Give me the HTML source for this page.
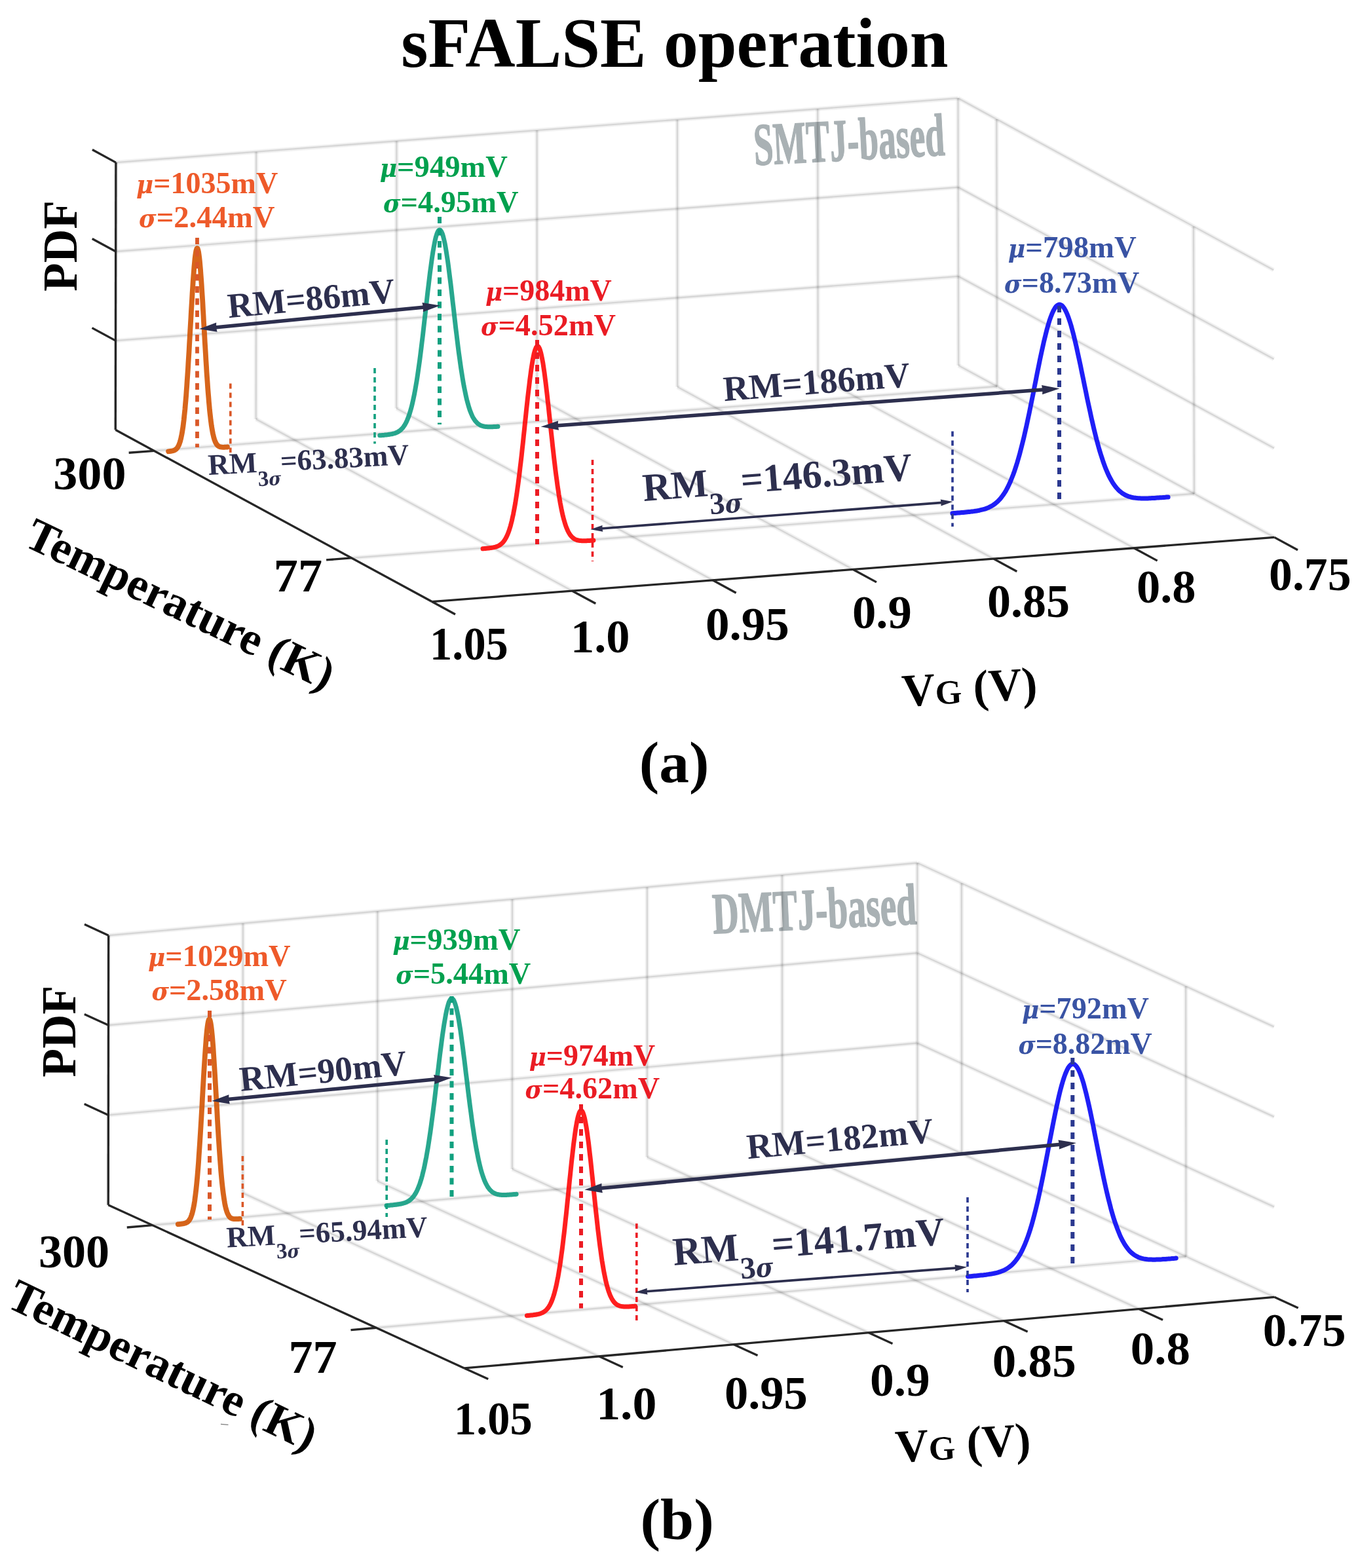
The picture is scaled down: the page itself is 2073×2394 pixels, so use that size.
<!DOCTYPE html>
<html><head><meta charset="utf-8"><title>sFALSE operation</title>
<style>html,body{margin:0;padding:0;background:#fff;}svg{display:block;}</style>
</head><body>
<svg width="2073" height="2394" viewBox="0 0 2073 2394" font-family="'Liberation Serif', 'Times New Roman', serif">
<rect width="2073" height="2394" fill="#fff"/>
<text id="smtj" transform="translate(1152 252) rotate(-3) scale(0.5850 1)" font-size="91.6" fill="#a9b1b4" font-weight="bold" font-style="normal" text-anchor="start" stroke="#a9b1b4" stroke-width="1.6" stroke-linejoin="round">SMTJ-based</text>
<g stroke="#000" stroke-opacity="0.055" stroke-width="6.5" stroke-linecap="butt">
<line x1="176.29" y1="656.28" x2="176.9" y2="248.1"/>
<line x1="390.75" y1="639.91" x2="391.15" y2="231.73"/>
<line x1="605.21" y1="623.54" x2="605.4" y2="215.37"/>
<line x1="819.69" y1="607.16" x2="819.65" y2="199.01"/>
<line x1="1034.17" y1="590.79" x2="1033.92" y2="182.65"/>
<line x1="1248.65" y1="574.42" x2="1248.19" y2="166.28"/>
<line x1="1463.15" y1="558.04" x2="1462.47" y2="149.92"/>
<line x1="176.5" y1="520.13" x2="1462.92" y2="421.91"/>
<line x1="176.7" y1="384.07" x2="1462.69" y2="285.87"/>
<line x1="176.9" y1="248.1" x2="1462.47" y2="149.92"/>
<line x1="1522.01" y1="590.07" x2="1521.27" y2="181.94"/>
<line x1="1822.93" y1="753.78" x2="1821.89" y2="345.66"/>
<line x1="1462.92" y1="421.91" x2="1944.96" y2="684.25"/>
<line x1="1462.69" y1="285.87" x2="1944.58" y2="548.21"/>
<line x1="1462.47" y1="149.92" x2="1944.19" y2="412.26"/>
<line x1="390.75" y1="639.91" x2="873.61" y2="902.18"/>
<line x1="605.21" y1="623.54" x2="1087.94" y2="885.82"/>
<line x1="819.69" y1="607.16" x2="1302.28" y2="869.46"/>
<line x1="1034.17" y1="590.79" x2="1516.63" y2="853.11"/>
<line x1="1248.65" y1="574.42" x2="1730.99" y2="836.75"/>
<line x1="1463.15" y1="558.04" x2="1945.35" y2="820.39"/>
<line x1="235.25" y1="688.29" x2="1522.01" y2="590.07"/>
<line x1="536.66" y1="851.96" x2="1822.93" y2="753.78"/>
</g>
<g stroke="#000" stroke-opacity="0.11" stroke-width="2.4" stroke-linecap="butt">
<line x1="176.29" y1="656.28" x2="176.9" y2="248.1"/>
<line x1="390.75" y1="639.91" x2="391.15" y2="231.73"/>
<line x1="605.21" y1="623.54" x2="605.4" y2="215.37"/>
<line x1="819.69" y1="607.16" x2="819.65" y2="199.01"/>
<line x1="1034.17" y1="590.79" x2="1033.92" y2="182.65"/>
<line x1="1248.65" y1="574.42" x2="1248.19" y2="166.28"/>
<line x1="1463.15" y1="558.04" x2="1462.47" y2="149.92"/>
<line x1="176.5" y1="520.13" x2="1462.92" y2="421.91"/>
<line x1="176.7" y1="384.07" x2="1462.69" y2="285.87"/>
<line x1="176.9" y1="248.1" x2="1462.47" y2="149.92"/>
<line x1="1522.01" y1="590.07" x2="1521.27" y2="181.94"/>
<line x1="1822.93" y1="753.78" x2="1821.89" y2="345.66"/>
<line x1="1462.92" y1="421.91" x2="1944.96" y2="684.25"/>
<line x1="1462.69" y1="285.87" x2="1944.58" y2="548.21"/>
<line x1="1462.47" y1="149.92" x2="1944.19" y2="412.26"/>
<line x1="390.75" y1="639.91" x2="873.61" y2="902.18"/>
<line x1="605.21" y1="623.54" x2="1087.94" y2="885.82"/>
<line x1="819.69" y1="607.16" x2="1302.28" y2="869.46"/>
<line x1="1034.17" y1="590.79" x2="1516.63" y2="853.11"/>
<line x1="1248.65" y1="574.42" x2="1730.99" y2="836.75"/>
<line x1="1463.15" y1="558.04" x2="1945.35" y2="820.39"/>
<line x1="235.25" y1="688.29" x2="1522.01" y2="590.07"/>
<line x1="536.66" y1="851.96" x2="1822.93" y2="753.78"/>
</g>
<g stroke="#262626" stroke-width="3.3" stroke-linecap="butt" fill="none">
<line x1="176.29" y1="656.28" x2="176.9" y2="248.1" stroke="#262626" stroke-width="3.3" />
<line x1="176.29" y1="656.28" x2="659.28" y2="918.54" stroke="#262626" stroke-width="3.3" />
<line x1="659.28" y1="918.54" x2="1945.35" y2="820.39" stroke="#262626" stroke-width="3.3" />
<line x1="176.5" y1="520.13" x2="140.5" y2="500.58" stroke="#262626" stroke-width="3.3" />
<line x1="176.7" y1="384.07" x2="140.72" y2="364.52" stroke="#262626" stroke-width="3.3" />
<line x1="176.9" y1="248.1" x2="140.93" y2="228.55" stroke="#262626" stroke-width="3.3" />
<line x1="659.28" y1="918.54" x2="695" y2="937.93" stroke="#262626" stroke-width="3.3" />
<line x1="873.61" y1="902.18" x2="909.31" y2="921.57" stroke="#262626" stroke-width="3.3" />
<line x1="1087.94" y1="885.82" x2="1123.64" y2="905.22" stroke="#262626" stroke-width="3.3" />
<line x1="1302.28" y1="869.46" x2="1337.97" y2="888.86" stroke="#262626" stroke-width="3.3" />
<line x1="1516.63" y1="853.11" x2="1552.31" y2="872.5" stroke="#262626" stroke-width="3.3" />
<line x1="1730.99" y1="836.75" x2="1766.66" y2="856.15" stroke="#262626" stroke-width="3.3" />
<line x1="1945.35" y1="820.39" x2="1981.01" y2="839.79" stroke="#262626" stroke-width="3.3" />
<line x1="235.25" y1="688.29" x2="196.65" y2="691.24" stroke="#262626" stroke-width="3.3" />
<line x1="536.66" y1="851.96" x2="498.07" y2="854.9" stroke="#262626" stroke-width="3.3" />
</g>
<text id="title" transform="translate(1030 101.6) scale(0.9811 1)" font-size="107.8" fill="#000" font-weight="bold" font-style="normal" text-anchor="middle">sFALSE operation</text>
<text id="pdf_a" transform="translate(117.2 375.6) rotate(-90) scale(0.9650 1)" font-size="74" fill="#000" font-weight="bold" font-style="normal" text-anchor="middle">PDF</text>
<text id="t300_a" transform="translate(81.31 747) scale(1.0297 1)" font-size="72" fill="#000" font-weight="bold" font-style="normal" text-anchor="start">300</text>
<text id="t77_a" transform="translate(417.77 903) scale(1.0323 1)" font-size="72" fill="#000" font-weight="bold" font-style="normal" text-anchor="start">77</text>
<text id="temp_a" transform="translate(34.26 832.32) rotate(25.7)" font-size="70.8" fill="#000" font-weight="bold" font-style="normal" text-anchor="start">Temperature (K)</text>
<text id="x105_a" transform="translate(656.1 1006.5) scale(0.9500 1)" font-size="72" fill="#000" font-weight="bold" font-style="normal" text-anchor="start">1.05</text>
<text id="x100_a" transform="translate(870.97 995.5) scale(1.0050 1)" font-size="72" fill="#000" font-weight="bold" font-style="normal" text-anchor="start">1.0</text>
<text id="x095_a" transform="translate(1076.95 977) scale(1.0151 1)" font-size="72" fill="#000" font-weight="bold" font-style="normal" text-anchor="start">0.95</text>
<text id="x090_a" transform="translate(1300.97 959) scale(1.0096 1)" font-size="72" fill="#000" font-weight="bold" font-style="normal" text-anchor="start">0.9</text>
<text id="x085_a" transform="translate(1507.1 941.5)" font-size="72" fill="#000" font-weight="bold" font-style="normal" text-anchor="start">0.85</text>
<text id="x080_a" transform="translate(1734.88 919.5) scale(1.0071 1)" font-size="72" fill="#000" font-weight="bold" font-style="normal" text-anchor="start">0.8</text>
<text id="x075_a" transform="translate(1937.11 900.5) scale(0.9950 1)" font-size="72" fill="#000" font-weight="bold" font-style="normal" text-anchor="start">0.75</text>
<text id="vg_a" transform="translate(1378 1078.5) rotate(-3.3)" font-size="70.5" fill="#000" font-weight="bold" font-style="normal" text-anchor="start">V<tspan font-size="52">G</tspan> (V)</text>
<text id="lab_a" transform="translate(975.87 1194) scale(1.0330 1)" font-size="88.6" fill="#000" font-weight="bold" font-style="normal" text-anchor="start">(a)</text>
<path d="M257.1,689.3 L257.6,689.2 L258.2,689.2 L258.8,689.1 L259.3,689.0 L259.9,689.0 L260.4,688.9 L261.0,688.8 L261.6,688.7 L262.1,688.6 L262.7,688.5 L263.3,688.4 L263.8,688.3 L264.4,688.1 L264.9,687.9 L265.5,687.7 L266.1,687.5 L266.6,687.2 L267.2,686.9 L267.8,686.5 L268.3,686.1 L268.9,685.7 L269.4,685.1 L270.0,684.5 L270.6,683.8 L271.1,683.1 L271.7,682.2 L272.2,681.1 L272.8,680.0 L273.4,678.7 L273.9,677.2 L274.5,675.6 L275.1,673.8 L275.6,671.7 L276.2,669.5 L276.7,667.0 L277.3,664.2 L277.9,661.1 L278.4,657.8 L279.0,654.1 L279.6,650.1 L280.1,645.7 L280.7,641.0 L281.2,635.9 L281.8,630.4 L282.4,624.6 L282.9,618.3 L283.5,611.7 L284.1,604.6 L284.6,597.2 L285.2,589.4 L285.7,581.2 L286.3,572.7 L286.9,563.9 L287.4,554.7 L288.0,545.3 L288.6,535.7 L289.1,525.9 L289.7,516.0 L290.2,506.0 L290.8,495.9 L291.4,485.9 L291.9,476.0 L292.5,466.2 L293.1,456.6 L293.6,447.3 L294.2,438.4 L294.7,429.9 L295.3,421.8 L295.9,414.3 L296.4,407.4 L297.0,401.1 L297.5,395.5 L298.1,390.7 L298.7,386.7 L299.2,383.5 L299.8,381.1 L300.4,379.6 L300.9,379.0 L301.5,379.3 L302.0,380.5 L302.6,382.5 L303.2,385.4 L303.7,389.1 L304.3,393.6 L304.9,398.9 L305.4,404.9 L306.0,411.5 L306.5,418.8 L307.1,426.6 L307.7,435.0 L308.2,443.7 L308.8,452.8 L309.4,462.2 L309.9,471.9 L310.5,481.7 L311.0,491.6 L311.6,501.6 L312.2,511.5 L312.7,521.4 L313.3,531.1 L313.9,540.7 L314.4,550.1 L315.0,559.2 L315.5,568.1 L316.1,576.6 L316.7,584.8 L317.2,592.6 L317.8,600.1 L318.4,607.1 L318.9,613.8 L319.5,620.1 L320.0,626.0 L320.6,631.5 L321.2,636.6 L321.7,641.3 L322.3,645.7 L322.8,649.7 L323.4,653.4 L324.0,656.7 L324.5,659.8 L325.1,662.6 L325.7,665.1 L326.2,667.3 L326.8,669.3 L327.3,671.1 L327.9,672.7 L328.5,674.2 L329.0,675.4 L329.6,676.5 L330.2,677.5 L330.7,678.3 L331.3,679.1 L331.8,679.7 L332.4,680.2 L333.0,680.7 L333.5,681.1 L334.1,681.4 L334.7,681.7 L335.2,682.0 L335.8,682.2 L336.3,682.3 L336.9,682.4 L337.5,682.5 L338.0,682.6 L338.6,682.7 L339.2,682.7 L339.7,682.8 L340.3,682.8 L340.8,682.8 L341.4,682.8 L342.0,682.8 L342.5,682.8 L343.1,682.7 L343.7,682.7 L344.2,682.7 L344.8,682.6 L345.3,682.6 L345.9,682.6 L346.5,682.5 L347.0,682.5" fill="none" stroke="#d45808" stroke-width="7.8" stroke-linejoin="round" stroke-linecap="round" opacity="0.92"/>
<line x1="301" y1="363" x2="301" y2="683" stroke="#da5828" stroke-width="5.8" stroke-dasharray="10 8.5" stroke-dashoffset="0"/>
<line x1="351.8" y1="585.5" x2="351.8" y2="691" stroke="#da5828" stroke-width="3.6" stroke-dasharray="8 6" stroke-dashoffset="0"/>
<path d="M579.8,664.8 L581.0,664.8 L582.1,664.7 L583.2,664.6 L584.3,664.5 L585.5,664.4 L586.6,664.3 L587.7,664.1 L588.9,664.0 L590.0,663.9 L591.1,663.8 L592.2,663.6 L593.4,663.5 L594.5,663.3 L595.6,663.1 L596.7,662.9 L597.9,662.7 L599.0,662.5 L600.1,662.2 L601.2,661.9 L602.4,661.6 L603.5,661.2 L604.6,660.7 L605.7,660.2 L606.9,659.7 L608.0,659.0 L609.1,658.3 L610.2,657.5 L611.4,656.6 L612.5,655.6 L613.6,654.4 L614.8,653.2 L615.9,651.7 L617.0,650.1 L618.1,648.3 L619.3,646.3 L620.4,644.1 L621.5,641.6 L622.6,638.9 L623.8,635.9 L624.9,632.6 L626.0,629.1 L627.1,625.2 L628.3,621.0 L629.4,616.4 L630.5,611.5 L631.6,606.2 L632.8,600.5 L633.9,594.4 L635.0,588.0 L636.2,581.1 L637.3,573.9 L638.4,566.3 L639.5,558.4 L640.7,550.1 L641.8,541.4 L642.9,532.5 L644.0,523.3 L645.2,513.9 L646.3,504.2 L647.4,494.4 L648.5,484.5 L649.7,474.6 L650.8,464.6 L651.9,454.7 L653.0,444.9 L654.2,435.2 L655.3,425.8 L656.4,416.7 L657.6,408.0 L658.7,399.6 L659.8,391.8 L660.9,384.5 L662.1,377.8 L663.2,371.8 L664.3,366.4 L665.4,361.8 L666.6,358.0 L667.7,355.0 L668.8,352.8 L669.9,351.5 L671.1,351.0 L672.2,351.4 L673.3,352.7 L674.4,354.8 L675.6,357.7 L676.7,361.5 L677.8,366.0 L679.0,371.2 L680.1,377.2 L681.2,383.8 L682.3,391.0 L683.5,398.7 L684.6,406.9 L685.7,415.6 L686.8,424.5 L688.0,433.8 L689.1,443.3 L690.2,452.9 L691.3,462.7 L692.5,472.5 L693.6,482.3 L694.7,492.0 L695.8,501.6 L697.0,511.1 L698.1,520.3 L699.2,529.3 L700.3,538.0 L701.5,546.5 L702.6,554.5 L703.7,562.3 L704.9,569.7 L706.0,576.7 L707.1,583.3 L708.2,589.5 L709.4,595.4 L710.5,600.8 L711.6,605.9 L712.7,610.6 L713.9,615.0 L715.0,619.0 L716.1,622.7 L717.2,626.1 L718.4,629.1 L719.5,631.9 L720.6,634.4 L721.7,636.7 L722.9,638.7 L724.0,640.5 L725.1,642.1 L726.3,643.5 L727.4,644.8 L728.5,645.9 L729.6,646.9 L730.8,647.7 L731.9,648.4 L733.0,649.1 L734.1,649.6 L735.3,650.0 L736.4,650.4 L737.5,650.7 L738.6,651.0 L739.8,651.2 L740.9,651.4 L742.0,651.5 L743.1,651.6 L744.3,651.7 L745.4,651.7 L746.5,651.8 L747.7,651.8 L748.8,651.8 L749.9,651.7 L751.0,651.7 L752.2,651.7 L753.3,651.6 L754.4,651.6 L755.5,651.5 L756.7,651.5 L757.8,651.4 L758.9,651.3 L760.0,651.2" fill="none" stroke="#16a084" stroke-width="7.0" stroke-linejoin="round" stroke-linecap="round" opacity="0.92"/>
<line x1="671" y1="331" x2="671" y2="648" stroke="#11a07f" stroke-width="6" stroke-dasharray="10 8.5" stroke-dashoffset="0"/>
<line x1="572" y1="562" x2="572" y2="677.5" stroke="#11a07f" stroke-width="3.6" stroke-dasharray="8 6" stroke-dashoffset="0"/>
<path d="M737.1,837.8 L738.1,837.7 L739.2,837.6 L740.2,837.5 L741.3,837.4 L742.4,837.3 L743.4,837.2 L744.5,837.1 L745.5,837.0 L746.6,836.9 L747.6,836.7 L748.7,836.6 L749.7,836.4 L750.8,836.3 L751.8,836.1 L752.9,835.9 L754.0,835.7 L755.0,835.4 L756.1,835.1 L757.1,834.8 L758.2,834.5 L759.2,834.1 L760.3,833.6 L761.3,833.1 L762.4,832.5 L763.5,831.8 L764.5,831.0 L765.6,830.1 L766.6,829.2 L767.7,828.1 L768.7,826.8 L769.8,825.4 L770.8,823.8 L771.9,822.0 L772.9,820.1 L774.0,817.9 L775.1,815.4 L776.1,812.7 L777.2,809.8 L778.2,806.5 L779.3,802.9 L780.3,799.0 L781.4,794.8 L782.4,790.1 L783.5,785.2 L784.5,779.8 L785.6,774.0 L786.7,767.9 L787.7,761.3 L788.8,754.4 L789.8,747.0 L790.9,739.3 L791.9,731.2 L793.0,722.7 L794.0,713.9 L795.1,704.8 L796.2,695.5 L797.2,685.9 L798.3,676.1 L799.3,666.2 L800.4,656.1 L801.4,646.1 L802.5,636.0 L803.5,626.0 L804.6,616.2 L805.6,606.6 L806.7,597.3 L807.8,588.3 L808.8,579.7 L809.9,571.6 L810.9,564.0 L812.0,557.0 L813.0,550.7 L814.1,545.1 L815.1,540.2 L816.2,536.2 L817.3,533.0 L818.3,530.6 L819.4,529.1 L820.4,528.5 L821.5,528.8 L822.5,530.0 L823.6,532.1 L824.6,535.0 L825.7,538.8 L826.7,543.3 L827.8,548.7 L828.9,554.7 L829.9,561.4 L831.0,568.7 L832.0,576.6 L833.1,585.0 L834.1,593.7 L835.2,602.9 L836.2,612.3 L837.3,621.9 L838.3,631.7 L839.4,641.6 L840.5,651.5 L841.5,661.4 L842.6,671.2 L843.6,680.8 L844.7,690.3 L845.7,699.5 L846.8,708.5 L847.8,717.2 L848.9,725.6 L850.0,733.6 L851.0,741.2 L852.1,748.4 L853.1,755.3 L854.2,761.8 L855.2,767.8 L856.3,773.5 L857.3,778.8 L858.4,783.7 L859.4,788.2 L860.5,792.3 L861.6,796.1 L862.6,799.6 L863.7,802.8 L864.7,805.6 L865.8,808.2 L866.8,810.5 L867.9,812.6 L868.9,814.4 L870.0,816.1 L871.0,817.5 L872.1,818.8 L873.2,819.9 L874.2,820.9 L875.3,821.7 L876.3,822.5 L877.4,823.1 L878.4,823.6 L879.5,824.1 L880.5,824.5 L881.6,824.8 L882.7,825.0 L883.7,825.2 L884.8,825.4 L885.8,825.5 L886.9,825.6 L887.9,825.7 L889.0,825.7 L890.0,825.8 L891.1,825.8 L892.1,825.8 L893.2,825.7 L894.3,825.7 L895.3,825.7 L896.4,825.6 L897.4,825.6 L898.5,825.5 L899.5,825.5 L900.6,825.4 L901.6,825.3 L902.7,825.3 L903.8,825.2 L904.8,825.1 L905.9,825.0" fill="none" stroke="#ff0c0c" stroke-width="7.0" stroke-linejoin="round" stroke-linecap="round" opacity="0.92"/>
<line x1="820" y1="519" x2="820" y2="831" stroke="#ec1c24" stroke-width="6" stroke-dasharray="10 9" stroke-dashoffset="0"/>
<line x1="904.5" y1="702" x2="904.5" y2="857" stroke="#ec1c24" stroke-width="3.6" stroke-dasharray="8 6" stroke-dashoffset="0"/>
<path d="M1453.9,783.8 L1456.0,783.6 L1458.0,783.5 L1460.1,783.3 L1462.2,783.1 L1464.2,783.0 L1466.3,782.8 L1468.3,782.6 L1470.4,782.4 L1472.4,782.2 L1474.5,782.0 L1476.6,781.8 L1478.6,781.6 L1480.7,781.4 L1482.7,781.1 L1484.8,780.9 L1486.8,780.6 L1488.9,780.3 L1491.0,780.0 L1493.0,779.6 L1495.1,779.2 L1497.1,778.7 L1499.2,778.2 L1501.2,777.7 L1503.3,777.1 L1505.4,776.4 L1507.4,775.6 L1509.5,774.7 L1511.5,773.7 L1513.6,772.6 L1515.6,771.4 L1517.7,770.0 L1519.8,768.4 L1521.8,766.7 L1523.9,764.7 L1525.9,762.6 L1528.0,760.2 L1530.0,757.5 L1532.1,754.6 L1534.2,751.4 L1536.2,747.9 L1538.3,744.0 L1540.3,739.8 L1542.4,735.2 L1544.4,730.3 L1546.5,725.0 L1548.6,719.2 L1550.6,713.1 L1552.7,706.5 L1554.7,699.6 L1556.8,692.2 L1558.8,684.4 L1560.9,676.2 L1563.0,667.7 L1565.0,658.8 L1567.1,649.5 L1569.1,640.0 L1571.2,630.2 L1573.2,620.2 L1575.3,610.0 L1577.4,599.7 L1579.4,589.4 L1581.5,579.0 L1583.5,568.7 L1585.6,558.5 L1587.6,548.5 L1589.7,538.8 L1591.8,529.3 L1593.8,520.3 L1595.9,511.8 L1597.9,503.8 L1600.0,496.4 L1602.0,489.7 L1604.1,483.7 L1606.2,478.4 L1608.2,474.0 L1610.3,470.4 L1612.3,467.7 L1614.4,465.9 L1616.4,465.1 L1618.5,465.1 L1620.6,466.1 L1622.6,468.0 L1624.7,470.8 L1626.7,474.5 L1628.8,478.9 L1630.8,484.2 L1632.9,490.3 L1635.0,497.0 L1637.0,504.4 L1639.1,512.3 L1641.1,520.7 L1643.2,529.6 L1645.2,538.9 L1647.3,548.4 L1649.4,558.2 L1651.4,568.2 L1653.5,578.2 L1655.5,588.3 L1657.6,598.3 L1659.6,608.2 L1661.7,618.0 L1663.8,627.6 L1665.8,637.0 L1667.9,646.1 L1669.9,654.9 L1672.0,663.3 L1674.0,671.4 L1676.1,679.1 L1678.1,686.4 L1680.2,693.2 L1682.3,699.7 L1684.3,705.8 L1686.4,711.4 L1688.4,716.7 L1690.5,721.5 L1692.5,726.0 L1694.6,730.0 L1696.7,733.8 L1698.7,737.2 L1700.8,740.2 L1702.8,743.0 L1704.9,745.5 L1706.9,747.7 L1709.0,749.7 L1711.1,751.4 L1713.1,753.0 L1715.2,754.3 L1717.2,755.5 L1719.3,756.5 L1721.3,757.4 L1723.4,758.1 L1725.5,758.7 L1727.5,759.3 L1729.6,759.7 L1731.6,760.1 L1733.7,760.3 L1735.7,760.6 L1737.8,760.7 L1739.9,760.8 L1741.9,760.9 L1744.0,761.0 L1746.0,761.0 L1748.1,761.0 L1750.1,760.9 L1752.2,760.9 L1754.3,760.8 L1756.3,760.7 L1758.4,760.6 L1760.4,760.5 L1762.5,760.4 L1764.5,760.2 L1766.6,760.1 L1768.7,760.0 L1770.7,759.8 L1772.8,759.7 L1774.8,759.6 L1776.9,759.4 L1778.9,759.3 L1781.0,759.1 L1783.1,759.0" fill="none" stroke="#0c0cf6" stroke-width="7.0" stroke-linejoin="round" stroke-linecap="round" opacity="0.92"/>
<line x1="1617" y1="467" x2="1617" y2="767.5" stroke="#2b3990" stroke-width="6" stroke-dasharray="10 9" stroke-dashoffset="0"/>
<line x1="1454" y1="658.4" x2="1454" y2="804" stroke="#2b3990" stroke-width="3.6" stroke-dasharray="8 6" stroke-dashoffset="0"/>
<text id="mu_o_a" transform="translate(208 295) scale(1.0023 1)" font-size="46" fill="#ee5a2a" font-weight="bold" font-style="normal" text-anchor="start"><tspan font-style="italic" font-family="'DejaVu Serif Condensed', 'DejaVu Serif', serif" font-size="39.6">&#956;</tspan>=1035mV</text>
<text id="sg_o_a" transform="translate(211.97 347) scale(1.0149 1)" font-size="46" fill="#ee5a2a" font-weight="bold" font-style="normal" text-anchor="start"><tspan font-style="italic" font-family="'DejaVu Serif Condensed', 'DejaVu Serif', serif" font-size="39.6">&#963;</tspan>=2.44mV</text>
<text id="mu_g_a" transform="translate(579.69 269.8) scale(1.0121 1)" font-size="46" fill="#00a04e" font-weight="bold" font-style="normal" text-anchor="start"><tspan font-style="italic" font-family="'DejaVu Serif Condensed', 'DejaVu Serif', serif" font-size="39.6">&#956;</tspan>=949mV</text>
<text id="sg_g_a" transform="translate(584.99 323.7) scale(1.0099 1)" font-size="46" fill="#00a04e" font-weight="bold" font-style="normal" text-anchor="start"><tspan font-style="italic" font-family="'DejaVu Serif Condensed', 'DejaVu Serif', serif" font-size="39.6">&#963;</tspan>=4.95mV</text>
<text id="mu_r_a" transform="translate(741 459)" font-size="46" fill="#ea1c24" font-weight="bold" font-style="normal" text-anchor="start"><tspan font-style="italic" font-family="'DejaVu Serif Condensed', 'DejaVu Serif', serif" font-size="39.6">&#956;</tspan>=984mV</text>
<text id="sg_r_a" transform="translate(733.89 512) scale(1.0084 1)" font-size="46" fill="#ea1c24" font-weight="bold" font-style="normal" text-anchor="start"><tspan font-style="italic" font-family="'DejaVu Serif Condensed', 'DejaVu Serif', serif" font-size="39.6">&#963;</tspan>=4.52mV</text>
<text id="mu_b_a" transform="translate(1538.78 392.9) scale(1.0168 1)" font-size="46" fill="#3953a4" font-weight="bold" font-style="normal" text-anchor="start"><tspan font-style="italic" font-family="'DejaVu Serif Condensed', 'DejaVu Serif', serif" font-size="39.6">&#956;</tspan>=798mV</text>
<text id="sg_b_a" transform="translate(1532.99 446.5) scale(1.0079 1)" font-size="46" fill="#3953a4" font-weight="bold" font-style="normal" text-anchor="start"><tspan font-style="italic" font-family="'DejaVu Serif Condensed', 'DejaVu Serif', serif" font-size="39.6">&#963;</tspan>=8.73mV</text>
<line x1="322.81" y1="500.48" x2="653.19" y2="468.42" stroke="#2d2f4e" stroke-width="5.5" />
<polygon points="304,502.3 331.57,506.86 330.07,499.77 330.18,492.53" fill="#2d2f4e"/>
<polygon points="672,466.6 644.43,462.04 645.93,469.13 645.82,476.37" fill="#2d2f4e"/>
<line x1="844.45" y1="650.21" x2="1598.65" y2="594.59" stroke="#2d2f4e" stroke-width="5.5" />
<polygon points="825.6,651.6 853.06,656.79 851.72,649.67 852,642.43" fill="#2d2f4e"/>
<polygon points="1617.5,593.2 1590.04,588.01 1591.38,595.13 1591.1,602.37" fill="#2d2f4e"/>
<line x1="914.41" y1="807.22" x2="1441.59" y2="767.08" stroke="#2d2f4e" stroke-width="3.7" />
<polygon points="901.5,808.2 920.32,811.68 919.39,806.84 919.57,801.91" fill="#2d2f4e"/>
<polygon points="1454.5,766.1 1435.68,762.62 1436.61,767.46 1436.43,772.39" fill="#2d2f4e"/>
<text id="rm86" transform="translate(349 485.3) rotate(-5.35)" font-size="53.5" fill="#2d2f4e" font-weight="bold" font-style="normal" text-anchor="start">RM=86mV</text>
<text id="rm186" transform="translate(1105.5 612.3) rotate(-4.5)" font-size="54" fill="#2d2f4e" font-weight="bold" font-style="normal" text-anchor="start">RM=186mV</text>
<text id="rm146" transform="translate(982.5 765) rotate(-4.5)" font-size="60" fill="#2d2f4e" font-weight="bold" font-style="normal" text-anchor="start">RM<tspan font-size="46.8" dy="28.2">3</tspan><tspan font-size="40.25" font-style="italic" font-family="'DejaVu Serif Condensed', 'DejaVu Serif', serif">&#963;</tspan><tspan dy="-28.2">=146.3mV</tspan></text>
<text id="rm63" transform="translate(318.2 725) rotate(-3)" font-size="45" fill="#2d2f4e" font-weight="bold" font-style="normal" text-anchor="start">RM<tspan font-size="33.3" dy="21.15">3</tspan><tspan font-size="28.64" font-style="italic" font-family="'DejaVu Serif Condensed', 'DejaVu Serif', serif">&#963;</tspan><tspan dy="-21.15">=63.83mV</tspan></text>
<text id="smtj_b" transform="translate(1089 1425.3) rotate(-2.7) scale(0.6240 1)" font-size="89" fill="#a9b1b4" font-weight="bold" font-style="normal" text-anchor="start" stroke="#a9b1b4" stroke-width="1.6" stroke-linejoin="round">DMTJ-based</text>
<g stroke="#000" stroke-opacity="0.055" stroke-width="6.5" stroke-linecap="butt">
<line x1="165.24" y1="1839.65" x2="165.65" y2="1428.2"/>
<line x1="370.58" y1="1821.45" x2="370.88" y2="1409.79"/>
<line x1="576.13" y1="1803.23" x2="576.33" y2="1391.37"/>
<line x1="781.89" y1="1785" x2="782" y2="1372.93"/>
<line x1="987.87" y1="1766.74" x2="987.88" y2="1354.46"/>
<line x1="1194.08" y1="1748.47" x2="1193.98" y2="1335.98"/>
<line x1="1400.49" y1="1730.18" x2="1400.3" y2="1317.48"/>
<line x1="165.38" y1="1702.45" x2="1400.43" y2="1592.57"/>
<line x1="165.51" y1="1565.3" x2="1400.36" y2="1455"/>
<line x1="165.65" y1="1428.2" x2="1400.3" y2="1317.48"/>
<line x1="1468.07" y1="1761.2" x2="1467.84" y2="1348.52"/>
<line x1="1810.49" y1="1918.43" x2="1810.1" y2="1505.79"/>
<line x1="1400.43" y1="1592.57" x2="1945.05" y2="1842.7"/>
<line x1="1400.36" y1="1455" x2="1944.89" y2="1705.16"/>
<line x1="1400.3" y1="1317.48" x2="1944.74" y2="1567.67"/>
<line x1="370.58" y1="1821.45" x2="914.37" y2="2070.85"/>
<line x1="576.13" y1="1803.23" x2="1120.1" y2="2052.77"/>
<line x1="781.89" y1="1785" x2="1326.05" y2="2034.68"/>
<line x1="987.87" y1="1766.74" x2="1532.21" y2="2016.56"/>
<line x1="1194.08" y1="1748.47" x2="1738.6" y2="1998.43"/>
<line x1="1400.49" y1="1730.18" x2="1945.2" y2="1980.28"/>
<line x1="232.68" y1="1870.57" x2="1468.07" y2="1761.2"/>
<line x1="574.41" y1="2027.26" x2="1810.49" y2="1918.43"/>
</g>
<g stroke="#000" stroke-opacity="0.11" stroke-width="2.4" stroke-linecap="butt">
<line x1="165.24" y1="1839.65" x2="165.65" y2="1428.2"/>
<line x1="370.58" y1="1821.45" x2="370.88" y2="1409.79"/>
<line x1="576.13" y1="1803.23" x2="576.33" y2="1391.37"/>
<line x1="781.89" y1="1785" x2="782" y2="1372.93"/>
<line x1="987.87" y1="1766.74" x2="987.88" y2="1354.46"/>
<line x1="1194.08" y1="1748.47" x2="1193.98" y2="1335.98"/>
<line x1="1400.49" y1="1730.18" x2="1400.3" y2="1317.48"/>
<line x1="165.38" y1="1702.45" x2="1400.43" y2="1592.57"/>
<line x1="165.51" y1="1565.3" x2="1400.36" y2="1455"/>
<line x1="165.65" y1="1428.2" x2="1400.3" y2="1317.48"/>
<line x1="1468.07" y1="1761.2" x2="1467.84" y2="1348.52"/>
<line x1="1810.49" y1="1918.43" x2="1810.1" y2="1505.79"/>
<line x1="1400.43" y1="1592.57" x2="1945.05" y2="1842.7"/>
<line x1="1400.36" y1="1455" x2="1944.89" y2="1705.16"/>
<line x1="1400.3" y1="1317.48" x2="1944.74" y2="1567.67"/>
<line x1="370.58" y1="1821.45" x2="914.37" y2="2070.85"/>
<line x1="576.13" y1="1803.23" x2="1120.1" y2="2052.77"/>
<line x1="781.89" y1="1785" x2="1326.05" y2="2034.68"/>
<line x1="987.87" y1="1766.74" x2="1532.21" y2="2016.56"/>
<line x1="1194.08" y1="1748.47" x2="1738.6" y2="1998.43"/>
<line x1="1400.49" y1="1730.18" x2="1945.2" y2="1980.28"/>
<line x1="232.68" y1="1870.57" x2="1468.07" y2="1761.2"/>
<line x1="574.41" y1="2027.26" x2="1810.49" y2="1918.43"/>
</g>
<g stroke="#262626" stroke-width="3.3" stroke-linecap="butt" fill="none">
<line x1="165.24" y1="1839.65" x2="165.65" y2="1428.2" stroke="#262626" stroke-width="3.3" />
<line x1="165.24" y1="1839.65" x2="708.85" y2="2088.91" stroke="#262626" stroke-width="3.3" />
<line x1="708.85" y1="2088.91" x2="1945.2" y2="1980.28" stroke="#262626" stroke-width="3.3" />
<line x1="165.38" y1="1702.45" x2="128.67" y2="1685.62" stroke="#262626" stroke-width="3.3" />
<line x1="165.51" y1="1565.3" x2="128.81" y2="1548.47" stroke="#262626" stroke-width="3.3" />
<line x1="165.65" y1="1428.2" x2="128.95" y2="1411.36" stroke="#262626" stroke-width="3.3" />
<line x1="708.85" y1="2088.91" x2="745.25" y2="2105.6" stroke="#262626" stroke-width="3.3" />
<line x1="914.37" y1="2070.85" x2="950.78" y2="2087.55" stroke="#262626" stroke-width="3.3" />
<line x1="1120.1" y1="2052.77" x2="1156.52" y2="2069.48" stroke="#262626" stroke-width="3.3" />
<line x1="1326.05" y1="2034.68" x2="1362.49" y2="2051.4" stroke="#262626" stroke-width="3.3" />
<line x1="1532.21" y1="2016.56" x2="1568.66" y2="2033.29" stroke="#262626" stroke-width="3.3" />
<line x1="1738.6" y1="1998.43" x2="1775.06" y2="2015.17" stroke="#262626" stroke-width="3.3" />
<line x1="1945.2" y1="1980.28" x2="1981.67" y2="1997.03" stroke="#262626" stroke-width="3.3" />
<line x1="232.68" y1="1870.57" x2="193.77" y2="1874.01" stroke="#262626" stroke-width="3.3" />
<line x1="574.41" y1="2027.26" x2="535.48" y2="2030.69" stroke="#262626" stroke-width="3.3" />
</g>
<text id="pdf_b" transform="translate(115.2 1574.8) rotate(-90) scale(0.9720 1)" font-size="74" fill="#000" font-weight="bold" font-style="normal" text-anchor="middle">PDF</text>
<text id="t300_b" transform="translate(58.99 1934.5) scale(1.0020 1)" font-size="72" fill="#000" font-weight="bold" font-style="normal" text-anchor="start">300</text>
<text id="t77_b" transform="translate(440.38 2095.5) scale(1.0308 1)" font-size="72" fill="#000" font-weight="bold" font-style="normal" text-anchor="start">77</text>
<text id="temp_b" transform="translate(7.46 1994.22) rotate(25.7)" font-size="70.8" fill="#000" font-weight="bold" font-style="normal" text-anchor="start">Temperature (K)</text>
<text id="x105_b" transform="translate(693.05 2190) scale(0.9496 1)" font-size="72" fill="#000" font-weight="bold" font-style="normal" text-anchor="start">1.05</text>
<text id="x100_b" transform="translate(910.14 2166.5) scale(1.0263 1)" font-size="72" fill="#000" font-weight="bold" font-style="normal" text-anchor="start">1.0</text>
<text id="x095_b" transform="translate(1105.88 2151) scale(1.0076 1)" font-size="72" fill="#000" font-weight="bold" font-style="normal" text-anchor="start">0.95</text>
<text id="x090_b" transform="translate(1327.94 2131) scale(1.0193 1)" font-size="72" fill="#000" font-weight="bold" font-style="normal" text-anchor="start">0.9</text>
<text id="x085_b" transform="translate(1514.86 2102) scale(1.0143 1)" font-size="72" fill="#000" font-weight="bold" font-style="normal" text-anchor="start">0.85</text>
<text id="x080_b" transform="translate(1725.87 2083) scale(1.0119 1)" font-size="72" fill="#000" font-weight="bold" font-style="normal" text-anchor="start">0.8</text>
<text id="x075_b" transform="translate(1927.68 2054.5) scale(1.0076 1)" font-size="72" fill="#000" font-weight="bold" font-style="normal" text-anchor="start">0.75</text>
<text id="vg_b" transform="translate(1368 2232.6) rotate(-3.3)" font-size="70.5" fill="#000" font-weight="bold" font-style="normal" text-anchor="start">V<tspan font-size="52">G</tspan> (V)</text>
<text id="lab_b" transform="translate(977.45 2350) scale(1.0374 1)" font-size="88.6" fill="#000" font-weight="bold" font-style="normal" text-anchor="start">(b)</text>
<path d="M271.8,1869.2 L272.4,1869.1 L273.0,1869.1 L273.6,1869.0 L274.2,1869.0 L274.7,1868.9 L275.3,1868.8 L275.9,1868.8 L276.5,1868.7 L277.1,1868.6 L277.7,1868.5 L278.3,1868.5 L278.9,1868.4 L279.5,1868.3 L280.1,1868.2 L280.6,1868.0 L281.2,1867.9 L281.8,1867.8 L282.4,1867.6 L283.0,1867.4 L283.6,1867.2 L284.2,1866.9 L284.8,1866.6 L285.4,1866.3 L286.0,1865.9 L286.5,1865.4 L287.1,1864.9 L287.7,1864.3 L288.3,1863.7 L288.9,1862.9 L289.5,1862.0 L290.1,1861.0 L290.7,1859.9 L291.3,1858.6 L291.8,1857.1 L292.4,1855.5 L293.0,1853.7 L293.6,1851.6 L294.2,1849.3 L294.8,1846.7 L295.4,1843.9 L296.0,1840.7 L296.6,1837.3 L297.2,1833.5 L297.7,1829.3 L298.3,1824.8 L298.9,1819.9 L299.5,1814.5 L300.1,1808.8 L300.7,1802.6 L301.3,1796.1 L301.9,1789.0 L302.5,1781.6 L303.1,1773.8 L303.6,1765.5 L304.2,1756.9 L304.8,1747.9 L305.4,1738.5 L306.0,1728.9 L306.6,1719.0 L307.2,1708.9 L307.8,1698.6 L308.4,1688.2 L308.9,1677.7 L309.5,1667.2 L310.1,1656.8 L310.7,1646.6 L311.3,1636.5 L311.9,1626.8 L312.5,1617.4 L313.1,1608.4 L313.7,1600.0 L314.3,1592.1 L314.8,1584.8 L315.4,1578.3 L316.0,1572.5 L316.6,1567.5 L317.2,1563.4 L317.8,1560.1 L318.4,1557.8 L319.0,1556.4 L319.6,1556.0 L320.1,1556.5 L320.7,1558.0 L321.3,1560.4 L321.9,1563.7 L322.5,1567.9 L323.1,1573.0 L323.7,1578.8 L324.3,1585.4 L324.9,1592.7 L325.5,1600.6 L326.0,1609.1 L326.6,1618.0 L327.2,1627.4 L327.8,1637.1 L328.4,1647.1 L329.0,1657.3 L329.6,1667.6 L330.2,1677.9 L330.8,1688.3 L331.4,1698.6 L331.9,1708.7 L332.5,1718.7 L333.1,1728.5 L333.7,1737.9 L334.3,1747.1 L334.9,1755.9 L335.5,1764.4 L336.1,1772.5 L336.7,1780.1 L337.2,1787.4 L337.8,1794.2 L338.4,1800.6 L339.0,1806.6 L339.6,1812.1 L340.2,1817.2 L340.8,1822.0 L341.4,1826.3 L342.0,1830.3 L342.6,1834.0 L343.1,1837.2 L343.7,1840.2 L344.3,1842.9 L344.9,1845.3 L345.5,1847.5 L346.1,1849.4 L346.7,1851.1 L347.3,1852.6 L347.9,1853.9 L348.5,1855.0 L349.0,1856.0 L349.6,1856.9 L350.2,1857.7 L350.8,1858.3 L351.4,1858.9 L352.0,1859.3 L352.6,1859.7 L353.2,1860.0 L353.8,1860.3 L354.3,1860.5 L354.9,1860.7 L355.5,1860.9 L356.1,1861.0 L356.7,1861.1 L357.3,1861.1 L357.9,1861.2 L358.5,1861.2 L359.1,1861.2 L359.7,1861.2 L360.2,1861.2 L360.8,1861.2 L361.4,1861.2 L362.0,1861.2 L362.6,1861.1 L363.2,1861.1 L363.8,1861.1 L364.4,1861.0 L365.0,1861.0 L365.6,1860.9 L366.1,1860.9" fill="none" stroke="#d45808" stroke-width="7.8" stroke-linejoin="round" stroke-linecap="round" opacity="0.92"/>
<line x1="320" y1="1543" x2="320" y2="1862" stroke="#da5828" stroke-width="6" stroke-dasharray="10 8.5" stroke-dashoffset="0"/>
<line x1="370.4" y1="1765" x2="370.4" y2="1872" stroke="#da5828" stroke-width="3.6" stroke-dasharray="8 6" stroke-dashoffset="0"/>
<path d="M590.0,1840.7 L591.3,1840.6 L592.5,1840.5 L593.8,1840.4 L595.0,1840.3 L596.2,1840.1 L597.5,1840.0 L598.7,1839.9 L599.9,1839.8 L601.2,1839.6 L602.4,1839.5 L603.7,1839.3 L604.9,1839.2 L606.1,1839.0 L607.4,1838.8 L608.6,1838.7 L609.8,1838.4 L611.1,1838.2 L612.3,1838.0 L613.6,1837.7 L614.8,1837.4 L616.0,1837.0 L617.3,1836.6 L618.5,1836.2 L619.7,1835.7 L621.0,1835.2 L622.2,1834.5 L623.5,1833.8 L624.7,1833.0 L625.9,1832.1 L627.2,1831.1 L628.4,1829.9 L629.6,1828.6 L630.9,1827.1 L632.1,1825.5 L633.4,1823.6 L634.6,1821.6 L635.8,1819.3 L637.1,1816.7 L638.3,1813.9 L639.5,1810.8 L640.8,1807.4 L642.0,1803.6 L643.3,1799.5 L644.5,1795.1 L645.7,1790.2 L647.0,1785.0 L648.2,1779.4 L649.4,1773.3 L650.7,1766.9 L651.9,1760.0 L653.2,1752.7 L654.4,1745.0 L655.6,1736.9 L656.9,1728.4 L658.1,1719.6 L659.3,1710.4 L660.6,1700.9 L661.8,1691.1 L663.1,1681.1 L664.3,1670.9 L665.5,1660.6 L666.8,1650.2 L668.0,1639.8 L669.3,1629.4 L670.5,1619.2 L671.7,1609.1 L673.0,1599.3 L674.2,1589.8 L675.4,1580.7 L676.7,1572.1 L677.9,1564.0 L679.2,1556.5 L680.4,1549.7 L681.6,1543.6 L682.9,1538.3 L684.1,1533.8 L685.3,1530.1 L686.6,1527.4 L687.8,1525.5 L689.1,1524.6 L690.3,1524.6 L691.5,1525.6 L692.8,1527.5 L694.0,1530.3 L695.2,1533.9 L696.5,1538.4 L697.7,1543.8 L699.0,1549.9 L700.2,1556.7 L701.4,1564.1 L702.7,1572.1 L703.9,1580.7 L705.1,1589.6 L706.4,1599.0 L707.6,1608.7 L708.9,1618.6 L710.1,1628.7 L711.3,1638.8 L712.6,1649.0 L713.8,1659.2 L715.0,1669.2 L716.3,1679.2 L717.5,1688.9 L718.8,1698.4 L720.0,1707.6 L721.2,1716.5 L722.5,1725.0 L723.7,1733.2 L724.9,1740.9 L726.2,1748.3 L727.4,1755.3 L728.7,1761.8 L729.9,1768.0 L731.1,1773.7 L732.4,1779.0 L733.6,1783.9 L734.8,1788.4 L736.1,1792.5 L737.3,1796.3 L738.6,1799.7 L739.8,1802.9 L741.0,1805.7 L742.3,1808.2 L743.5,1810.4 L744.7,1812.5 L746.0,1814.2 L747.2,1815.8 L748.5,1817.2 L749.7,1818.4 L750.9,1819.4 L752.2,1820.4 L753.4,1821.1 L754.6,1821.8 L755.9,1822.4 L757.1,1822.8 L758.4,1823.2 L759.6,1823.5 L760.8,1823.8 L762.1,1824.0 L763.3,1824.2 L764.5,1824.3 L765.8,1824.4 L767.0,1824.4 L768.3,1824.4 L769.5,1824.4 L770.7,1824.4 L772.0,1824.4 L773.2,1824.4 L774.4,1824.3 L775.7,1824.2 L776.9,1824.2 L778.2,1824.1 L779.4,1824.0 L780.6,1823.9 L781.9,1823.8 L783.1,1823.7 L784.3,1823.6 L785.6,1823.5 L786.8,1823.4 L788.1,1823.3" fill="none" stroke="#16a084" stroke-width="7.0" stroke-linejoin="round" stroke-linecap="round" opacity="0.92"/>
<line x1="689.5" y1="1521" x2="689.5" y2="1828" stroke="#11a07f" stroke-width="6" stroke-dasharray="10 8.5" stroke-dashoffset="0"/>
<line x1="590.2" y1="1740" x2="590.2" y2="1858" stroke="#11a07f" stroke-width="3.6" stroke-dasharray="8 6" stroke-dashoffset="0"/>
<path d="M804.4,2008.7 L805.4,2008.6 L806.4,2008.5 L807.4,2008.4 L808.5,2008.3 L809.5,2008.2 L810.5,2008.1 L811.6,2008.0 L812.6,2007.9 L813.6,2007.8 L814.7,2007.6 L815.7,2007.5 L816.7,2007.3 L817.8,2007.2 L818.8,2007.0 L819.8,2006.8 L820.9,2006.6 L821.9,2006.4 L822.9,2006.1 L824.0,2005.8 L825.0,2005.5 L826.0,2005.1 L827.1,2004.6 L828.1,2004.2 L829.1,2003.6 L830.2,2003.0 L831.2,2002.3 L832.2,2001.5 L833.3,2000.6 L834.3,1999.6 L835.3,1998.4 L836.4,1997.2 L837.4,1995.7 L838.4,1994.1 L839.5,1992.3 L840.5,1990.3 L841.5,1988.0 L842.6,1985.5 L843.6,1982.8 L844.6,1979.7 L845.7,1976.4 L846.7,1972.7 L847.7,1968.8 L848.8,1964.4 L849.8,1959.7 L850.8,1954.6 L851.9,1949.2 L852.9,1943.3 L853.9,1937.1 L855.0,1930.4 L856.0,1923.3 L857.0,1915.9 L858.1,1908.0 L859.1,1899.8 L860.1,1891.2 L861.2,1882.3 L862.2,1873.1 L863.2,1863.6 L864.3,1853.9 L865.3,1844.0 L866.3,1833.9 L867.4,1823.8 L868.4,1813.6 L869.4,1803.4 L870.5,1793.4 L871.5,1783.4 L872.5,1773.7 L873.6,1764.3 L874.6,1755.3 L875.6,1746.6 L876.7,1738.5 L877.7,1730.9 L878.7,1723.9 L879.8,1717.5 L880.8,1711.9 L881.8,1707.1 L882.9,1703.0 L883.9,1699.8 L884.9,1697.5 L886.0,1696.0 L887.0,1695.5 L888.0,1695.9 L889.1,1697.1 L890.1,1699.3 L891.1,1702.3 L892.2,1706.1 L893.2,1710.8 L894.2,1716.2 L895.3,1722.4 L896.3,1729.2 L897.3,1736.6 L898.4,1744.6 L899.4,1753.1 L900.4,1762.0 L901.5,1771.2 L902.5,1780.7 L903.5,1790.5 L904.6,1800.3 L905.6,1810.3 L906.6,1820.3 L907.7,1830.3 L908.7,1840.2 L909.7,1849.9 L910.8,1859.4 L911.8,1868.7 L912.8,1877.8 L913.9,1886.5 L914.9,1894.9 L915.9,1902.9 L917.0,1910.6 L918.0,1917.9 L919.0,1924.8 L920.1,1931.3 L921.1,1937.3 L922.1,1943.0 L923.2,1948.3 L924.2,1953.2 L925.2,1957.7 L926.3,1961.9 L927.3,1965.7 L928.3,1969.1 L929.4,1972.3 L930.4,1975.1 L931.4,1977.7 L932.5,1980.0 L933.5,1982.1 L934.5,1983.9 L935.6,1985.6 L936.6,1987.0 L937.6,1988.3 L938.7,1989.4 L939.7,1990.3 L940.7,1991.2 L941.8,1991.9 L942.8,1992.5 L943.8,1993.0 L944.9,1993.4 L945.9,1993.8 L946.9,1994.1 L948.0,1994.4 L949.0,1994.6 L950.0,1994.7 L951.1,1994.8 L952.1,1994.9 L953.1,1995.0 L954.2,1995.0 L955.2,1995.0 L956.2,1995.0 L957.3,1995.0 L958.3,1995.0 L959.3,1994.9 L960.4,1994.9 L961.4,1994.8 L962.4,1994.8 L963.5,1994.7 L964.5,1994.6 L965.5,1994.5 L966.6,1994.5 L967.6,1994.4 L968.6,1994.3 L969.6,1994.2" fill="none" stroke="#ff0c0c" stroke-width="7.0" stroke-linejoin="round" stroke-linecap="round" opacity="0.92"/>
<line x1="887" y1="1686" x2="887" y2="1997.5" stroke="#ec1c24" stroke-width="6" stroke-dasharray="10 9" stroke-dashoffset="0"/>
<line x1="971.8" y1="1868" x2="971.8" y2="2020.5" stroke="#ec1c24" stroke-width="3.6" stroke-dasharray="8 6" stroke-dashoffset="0"/>
<path d="M1477.6,1949.0 L1479.6,1948.8 L1481.6,1948.7 L1483.5,1948.5 L1485.5,1948.3 L1487.5,1948.1 L1489.5,1947.9 L1491.5,1947.7 L1493.5,1947.5 L1495.4,1947.3 L1497.4,1947.1 L1499.4,1946.9 L1501.4,1946.7 L1503.4,1946.4 L1505.4,1946.2 L1507.4,1945.9 L1509.3,1945.6 L1511.3,1945.3 L1513.3,1945.0 L1515.3,1944.6 L1517.3,1944.2 L1519.3,1943.8 L1521.3,1943.3 L1523.2,1942.8 L1525.2,1942.2 L1527.2,1941.6 L1529.2,1940.8 L1531.2,1940.0 L1533.2,1939.1 L1535.1,1938.1 L1537.1,1936.9 L1539.1,1935.6 L1541.1,1934.2 L1543.1,1932.6 L1545.1,1930.8 L1547.1,1928.8 L1549.0,1926.6 L1551.0,1924.1 L1553.0,1921.4 L1555.0,1918.5 L1557.0,1915.2 L1559.0,1911.6 L1561.0,1907.7 L1562.9,1903.4 L1564.9,1898.8 L1566.9,1893.8 L1568.9,1888.4 L1570.9,1882.6 L1572.9,1876.4 L1574.9,1869.8 L1576.8,1862.8 L1578.8,1855.3 L1580.8,1847.5 L1582.8,1839.2 L1584.8,1830.6 L1586.8,1821.6 L1588.7,1812.3 L1590.7,1802.7 L1592.7,1792.9 L1594.7,1782.8 L1596.7,1772.5 L1598.7,1762.1 L1600.7,1751.7 L1602.6,1741.2 L1604.6,1730.8 L1606.6,1720.5 L1608.6,1710.4 L1610.6,1700.5 L1612.6,1691.0 L1614.6,1681.8 L1616.5,1673.2 L1618.5,1665.0 L1620.5,1657.5 L1622.5,1650.6 L1624.5,1644.4 L1626.5,1639.0 L1628.5,1634.4 L1630.4,1630.6 L1632.4,1627.7 L1634.4,1625.7 L1636.4,1624.7 L1638.4,1624.5 L1640.4,1625.3 L1642.3,1627.0 L1644.3,1629.7 L1646.3,1633.1 L1648.3,1637.5 L1650.3,1642.6 L1652.3,1648.5 L1654.3,1655.1 L1656.2,1662.4 L1658.2,1670.2 L1660.2,1678.6 L1662.2,1687.4 L1664.2,1696.6 L1666.2,1706.1 L1668.2,1715.9 L1670.1,1725.9 L1672.1,1736.0 L1674.1,1746.1 L1676.1,1756.2 L1678.1,1766.2 L1680.1,1776.1 L1682.1,1785.8 L1684.0,1795.3 L1686.0,1804.6 L1688.0,1813.5 L1690.0,1822.1 L1692.0,1830.3 L1694.0,1838.2 L1695.9,1845.7 L1697.9,1852.7 L1699.9,1859.4 L1701.9,1865.6 L1703.9,1871.4 L1705.9,1876.8 L1707.9,1881.8 L1709.8,1886.5 L1711.8,1890.7 L1713.8,1894.6 L1715.8,1898.1 L1717.8,1901.3 L1719.8,1904.2 L1721.8,1906.8 L1723.7,1909.2 L1725.7,1911.2 L1727.7,1913.1 L1729.7,1914.7 L1731.7,1916.1 L1733.7,1917.4 L1735.7,1918.4 L1737.6,1919.4 L1739.6,1920.2 L1741.6,1920.8 L1743.6,1921.4 L1745.6,1921.9 L1747.6,1922.2 L1749.5,1922.5 L1751.5,1922.8 L1753.5,1922.9 L1755.5,1923.1 L1757.5,1923.1 L1759.5,1923.2 L1761.5,1923.2 L1763.4,1923.2 L1765.4,1923.1 L1767.4,1923.1 L1769.4,1923.0 L1771.4,1922.9 L1773.4,1922.8 L1775.4,1922.6 L1777.3,1922.5 L1779.3,1922.4 L1781.3,1922.2 L1783.3,1922.1 L1785.3,1921.9 L1787.3,1921.8 L1789.2,1921.6 L1791.2,1921.4 L1793.2,1921.3 L1795.2,1921.1" fill="none" stroke="#0c0cf6" stroke-width="7.0" stroke-linejoin="round" stroke-linecap="round" opacity="0.92"/>
<line x1="1637.3" y1="1615" x2="1637.3" y2="1930" stroke="#2b3990" stroke-width="6" stroke-dasharray="10 9" stroke-dashoffset="0"/>
<line x1="1477" y1="1828" x2="1477" y2="1973" stroke="#2b3990" stroke-width="3.6" stroke-dasharray="8 6" stroke-dashoffset="0"/>
<text id="mu_o_b" transform="translate(225.99 1475) scale(1.0085 1)" font-size="46" fill="#ee5a2a" font-weight="bold" font-style="normal" text-anchor="start"><tspan font-style="italic" font-family="'DejaVu Serif Condensed', 'DejaVu Serif', serif" font-size="39.6">&#956;</tspan>=1029mV</text>
<text id="sg_o_b" transform="translate(231.38 1527.4) scale(1.0090 1)" font-size="46" fill="#ee5a2a" font-weight="bold" font-style="normal" text-anchor="start"><tspan font-style="italic" font-family="'DejaVu Serif Condensed', 'DejaVu Serif', serif" font-size="39.6">&#963;</tspan>=2.58mV</text>
<text id="mu_g_b" transform="translate(599.19 1449.7) scale(1.0126 1)" font-size="46" fill="#00a04e" font-weight="bold" font-style="normal" text-anchor="start"><tspan font-style="italic" font-family="'DejaVu Serif Condensed', 'DejaVu Serif', serif" font-size="39.6">&#956;</tspan>=939mV</text>
<text id="sg_g_b" transform="translate(604.19 1502.4) scale(1.0074 1)" font-size="46" fill="#00a04e" font-weight="bold" font-style="normal" text-anchor="start"><tspan font-style="italic" font-family="'DejaVu Serif Condensed', 'DejaVu Serif', serif" font-size="39.6">&#963;</tspan>=5.44mV</text>
<text id="mu_r_b" transform="translate(807.7 1626.5) scale(0.9989 1)" font-size="46" fill="#ea1c24" font-weight="bold" font-style="normal" text-anchor="start"><tspan font-style="italic" font-family="'DejaVu Serif Condensed', 'DejaVu Serif', serif" font-size="39.6">&#956;</tspan>=974mV</text>
<text id="sg_r_b" transform="translate(801.6 1676.7) scale(1.0045 1)" font-size="46" fill="#ea1c24" font-weight="bold" font-style="normal" text-anchor="start"><tspan font-style="italic" font-family="'DejaVu Serif Condensed', 'DejaVu Serif', serif" font-size="39.6">&#963;</tspan>=4.62mV</text>
<text id="mu_b_b" transform="translate(1559.99 1554.8) scale(1.0053 1)" font-size="46" fill="#3953a4" font-weight="bold" font-style="normal" text-anchor="start"><tspan font-style="italic" font-family="'DejaVu Serif Condensed', 'DejaVu Serif', serif" font-size="39.6">&#956;</tspan>=792mV</text>
<text id="sg_b_b" transform="translate(1554.4 1608.7) scale(0.9995 1)" font-size="46" fill="#3953a4" font-weight="bold" font-style="normal" text-anchor="start"><tspan font-style="italic" font-family="'DejaVu Serif Condensed', 'DejaVu Serif', serif" font-size="39.6">&#963;</tspan>=8.82mV</text>
<line x1="342.01" y1="1679.08" x2="670.79" y2="1647.32" stroke="#2d2f4e" stroke-width="5.5" />
<polygon points="323.2,1680.9 350.77,1685.47 349.27,1678.38 349.38,1671.14" fill="#2d2f4e"/>
<polygon points="689.6,1645.5 662.03,1640.93 663.53,1648.02 663.42,1655.26" fill="#2d2f4e"/>
<line x1="911.11" y1="1814.81" x2="1624.19" y2="1746.79" stroke="#2d2f4e" stroke-width="5.5" />
<polygon points="892.3,1816.6 919.86,1821.2 918.37,1814.11 918.49,1806.87" fill="#2d2f4e"/>
<polygon points="1643,1745 1615.44,1740.4 1616.93,1747.49 1616.81,1754.73" fill="#2d2f4e"/>
<line x1="982.61" y1="1972.02" x2="1463.29" y2="1935.58" stroke="#2d2f4e" stroke-width="3.7" />
<polygon points="969.7,1973 988.52,1976.49 987.59,1971.64 987.78,1966.72" fill="#2d2f4e"/>
<polygon points="1476.2,1934.6 1457.38,1931.11 1458.31,1935.96 1458.12,1940.88" fill="#2d2f4e"/>
<text id="rm90" transform="translate(367.5 1666) rotate(-5.8)" font-size="53.5" fill="#2d2f4e" font-weight="bold" font-style="normal" text-anchor="start">RM=90mV</text>
<text id="rm182" transform="translate(1141.5 1769.3) rotate(-5.1)" font-size="54" fill="#2d2f4e" font-weight="bold" font-style="normal" text-anchor="start">RM=182mV</text>
<text id="rm141" transform="translate(1028.5 1931.8) rotate(-4.4)" font-size="60.5" fill="#2d2f4e" font-weight="bold" font-style="normal" text-anchor="start">RM<tspan font-size="47.19" dy="28.43">3</tspan><tspan font-size="40.58" font-style="italic" font-family="'DejaVu Serif Condensed', 'DejaVu Serif', serif">&#963;</tspan><tspan dy="-28.43">=141.7mV</tspan></text>
<text id="rm65" transform="translate(346.4 1904.5) rotate(-3.1)" font-size="45" fill="#2d2f4e" font-weight="bold" font-style="normal" text-anchor="start">RM<tspan font-size="33.3" dy="21.15">3</tspan><tspan font-size="28.64" font-style="italic" font-family="'DejaVu Serif Condensed', 'DejaVu Serif', serif">&#963;</tspan><tspan dy="-21.15">=65.94mV</tspan></text>
<line x1="337" y1="2174.3" x2="348.5" y2="2175.3" stroke="#7a7a7a" stroke-width="1.3" />
</svg>
</body></html>
